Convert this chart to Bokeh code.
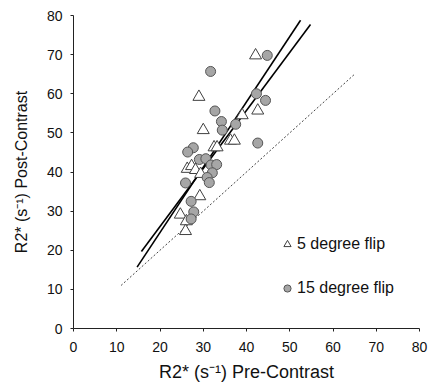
from bokeh.plotting import figure
from bokeh.models import FixedTicker, Legend, LegendItem
from bokeh.embed import file_html
from bokeh.resources import INLINE

# 5 degree flip (triangles)
tri_x = [42.1, 29.0, 42.6, 39.0, 30.0, 36.3, 37.2, 32.5, 33.2, 26.3, 27.3, 28.2,
         29.4, 29.2, 24.7, 26.1, 25.9]
tri_y = [69.8, 59.2, 55.7, 54.5, 50.7, 48.0, 48.0, 46.3, 46.3, 40.8, 41.5, 40.5,
         39.5, 33.8, 29.1, 27.4, 24.9]

# 15 degree flip (circles)
circ_x = [44.8, 31.7, 42.3, 44.4, 32.7, 34.2, 37.5, 34.4, 42.6, 27.7, 26.4, 29.1,
          30.6, 31.8, 33.1, 32.1, 30.9, 31.4, 25.9, 27.2, 27.8, 27.2]
circ_y = [69.8, 65.7, 60.0, 58.3, 55.6, 52.9, 52.2, 50.7, 47.4, 46.2, 45.1, 43.2,
          43.4, 41.8, 41.9, 39.8, 38.6, 37.3, 37.2, 32.5, 29.8, 28.0]

# trend lines (slope, intercept, x extent)
fit_a_slope, fit_a_intercept, fit_a_x = 1.483, -3.59, [15.7, 54.8]
fit_b_slope, fit_b_intercept, fit_b_x = 1.669, -8.84, [14.7, 52.5]

# line of identity
ident_x = [11, 65]

ticks = [0, 10, 20, 30, 40, 50, 60, 70, 80]
label_5 = "5 degree flip"
label_15 = "15 degree flip"
x_title = "R2* (s\u207b\u00b9) Pre-Contrast"
y_title = "R2* (s\u207b\u00b9) Post-Contrast"

FONT = "Liberation Sans"

p = figure(output_backend="svg", toolbar_location=None,
           frame_width=346, frame_height=313,
           min_border_left=73, min_border_top=15, min_border_right=20,
           x_range=(0, 80), y_range=(0, 80))
p.outline_line_color = None
p.grid.visible = False
p.background_fill_color = "white"
p.border_fill_color = "white"

for ax in (p.xaxis[0], p.yaxis[0]):
    ax.ticker = FixedTicker(ticks=ticks)
    ax.axis_line_color = "#222222"
    ax.major_tick_line_color = "#222222"
    ax.major_tick_in = 0
    ax.major_tick_out = 3
    ax.minor_tick_line_color = None
    ax.major_label_text_font = FONT
    ax.major_label_text_font_size = "14px"
    ax.major_label_text_color = "#111111"
    ax.major_label_standoff = 8
    ax.axis_label_text_font = FONT
    ax.axis_label_text_font_style = "normal"
    ax.axis_label_text_color = "#111111"

p.xaxis[0].axis_label = x_title
p.xaxis[0].axis_label_text_font_size = "18px"
p.xaxis[0].axis_label_standoff = 7
p.xaxis[0].major_label_standoff = 10
p.yaxis[0].axis_label = y_title
p.yaxis[0].axis_label_text_font_size = "16px"
p.yaxis[0].axis_label_standoff = 14

# identity line
p.line(ident_x, ident_x, line_color="#444444", line_width=1, line_dash="2 2")

# trend lines
p.line(fit_a_x, [fit_a_slope * x + fit_a_intercept for x in fit_a_x],
       line_color="black", line_width=1.6)
p.line(fit_b_x, [fit_b_slope * x + fit_b_intercept for x in fit_b_x],
       line_color="black", line_width=1.6)

r_tri = p.scatter(tri_x, tri_y, marker="triangle", size=12,
                  fill_color="white", line_color="#404040", line_width=1)
r_circ = p.scatter(circ_x, circ_y, marker="circle", size=10,
                   fill_color="#a6a6a6", line_color="#555555", line_width=1)

legend = Legend(items=[LegendItem(label=label_5, renderers=[r_tri]),
                       LegendItem(label=label_15, renderers=[r_circ])],
                location=(205, 30), orientation="vertical",
                padding=0, margin=0, spacing=24,
                glyph_width=18, glyph_height=20, label_height=20,
                label_standoff=1,
                label_text_font=FONT, label_text_font_size="16px",
                label_text_color="#111111",
                background_fill_alpha=0, border_line_alpha=0)
p.add_layout(legend)

open("out.html", "w").write(file_html(p, INLINE))
